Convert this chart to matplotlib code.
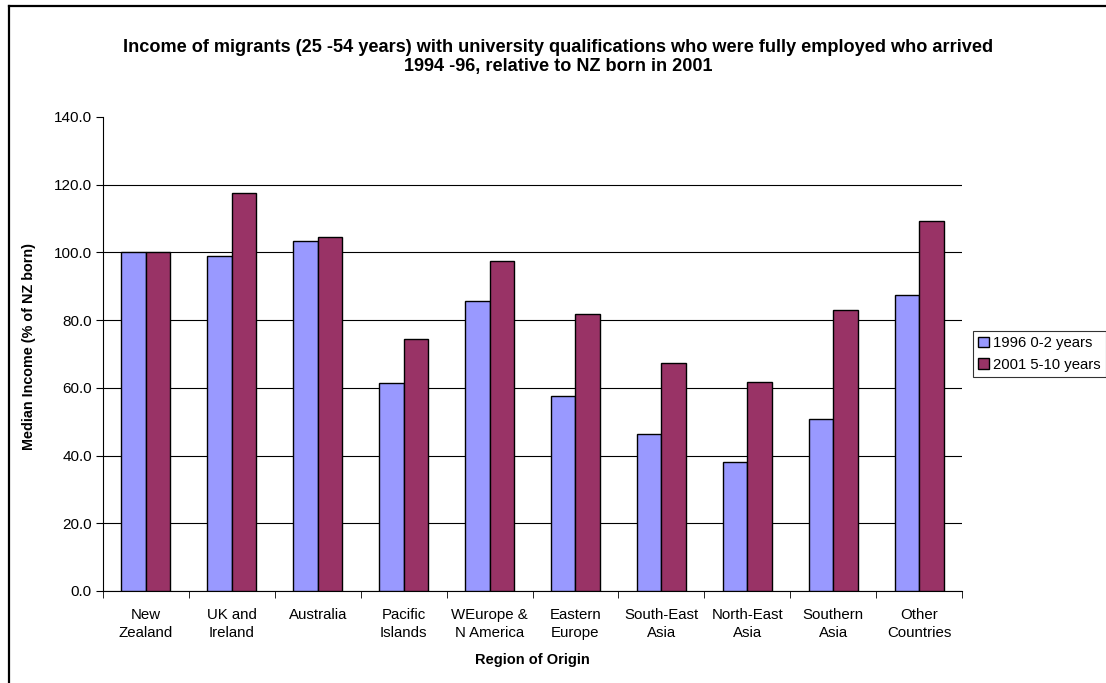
import numpy as np
import matplotlib.pyplot as plt
from matplotlib.lines import Line2D

plt.rcParams['font.family'] = ['Liberation Sans', 'DejaVu Sans']

# Data
regions = ["New\nZealand", "UK and\nIreland", "Australia", "Pacific\nIslands",
           "WEurope &\nN America", "Eastern\nEurope", "South-East\nAsia",
           "North-East\nAsia", "Southern\nAsia", "Other\nCountries"]
income_1996 = [100.0, 99.0, 103.3, 61.4, 85.6, 57.6, 46.3, 38.2, 50.8, 87.5]
income_2001 = [100.0, 117.6, 104.6, 74.3, 97.4, 81.9, 67.3, 61.7, 83.1, 109.4]

W, H = 1106, 683
fig = plt.figure(figsize=(W / 100, H / 100), dpi=100)
ax = fig.add_axes([103 / W, 1 - 591 / H, (962 - 103) / W, (591 - 117) / H])

x = np.arange(len(regions))
bw = 0.285
ax.bar(x - bw / 2, income_1996, bw, color="#9999FF", edgecolor="black",
       linewidth=1, label="1996 0-2 years", zorder=3)
ax.bar(x + bw / 2, income_2001, bw, color="#993366", edgecolor="black",
       linewidth=1, label="2001 5-10 years", zorder=3)

ax.set_xlim(-0.5, len(regions) - 0.5)
ax.set_ylim(0, 140)
yt = np.arange(0, 141, 20)
ax.set_yticks(yt)
ax.set_yticklabels([f"{v:.1f}" for v in yt], fontsize=11)
ax.set_xticks(x)
ax.set_xticklabels(regions, fontsize=10.8, linespacing=1.4)
ax.tick_params(axis="x", length=0, pad=12)
ax.set_xticks(np.arange(-0.5, len(regions), 1), minor=True)
ax.tick_params(axis="x", which="minor", length=5, direction="out")
ax.tick_params(axis="y", length=5, direction="out", pad=3)

ax.yaxis.grid(True, color="black", linewidth=0.8, zorder=0)
ax.get_ygridlines()[-1].set_visible(False)
for s in ["top", "right"]:
    ax.spines[s].set_visible(False)

ax.set_xlabel("Region of Origin", fontsize=10.5, fontweight="bold", labelpad=9)
ax.set_ylabel("Median Income (% of NZ born)", fontsize=10.4, fontweight="bold")
ax.yaxis.set_label_coords(-(103 - 36) / (962 - 103), (591 - 346) / (591 - 117))

fig.text(558 / W, 1 - 57 / H,
         "Income of migrants (25 -54 years) with university qualifications who were fully employed who arrived\n1994 -96, relative to NZ born in 2001",
         ha="center", va="center", fontsize=13.1, fontweight="bold", linespacing=1.15)

leg = fig.legend(loc="upper left", bbox_to_anchor=(973 / W, 1 - 331 / H),
                 fontsize=10.7, frameon=True, fancybox=False, edgecolor="black",
                 handlelength=0.7, handleheight=0.7, handletextpad=0.3,
                 borderpad=0.35, labelspacing=0.5, borderaxespad=0)
leg.get_frame().set_linewidth(0.8)

# outer frame: only top and left edges visible
fig.add_artist(Line2D([9 / W, 1105 / W], [1 - 6 / H, 1 - 6 / H],
                      transform=fig.transFigure, color="black", linewidth=1.6))
fig.add_artist(Line2D([9 / W, 9 / W], [0, 1 - 6 / H],
                      transform=fig.transFigure, color="black", linewidth=1.6))

fig.savefig("out.png", dpi=100)
